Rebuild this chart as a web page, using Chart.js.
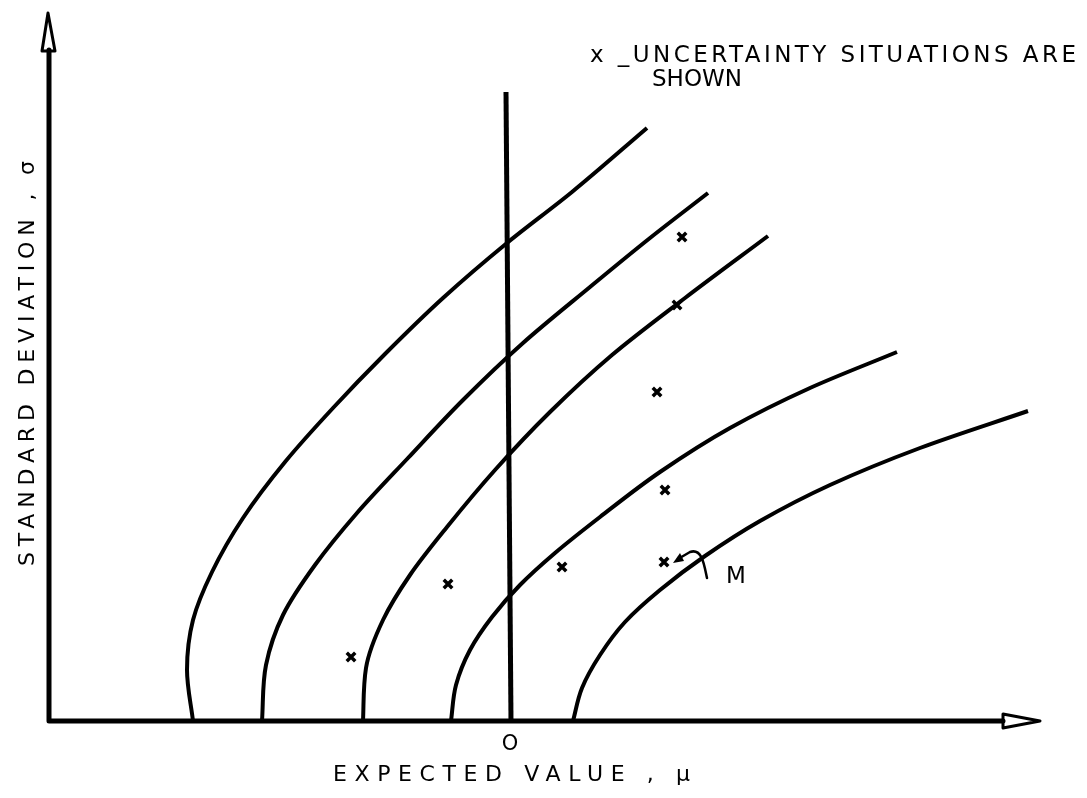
<!DOCTYPE html>
<html>
<head>
<meta charset="utf-8">
<script src="https://cdn.jsdelivr.net/npm/chart.js@4"></script>
<style>
  html, body { margin: 0; padding: 0; background: #fff; }
  #chart { display: block; }
</style>
</head>
<body>
<canvas id="chart" width="1087" height="798"></canvas>
<script>
// indifference curves, [expected value, standard deviation] (0 = origin O)
const curve1 = [[-3.17,0],[-3.23,0.51],[-3.17,1.01],[-2.98,1.49],[-2.67,2.03],[-2.25,2.59],[-1.77,3.13],[-1.25,3.67],[-0.67,4.23],[-0.03,4.78],[0.62,5.29],[1.37,5.93]];
const curve2 = [[-2.48,0],[-2.44,0.56],[-2.27,1.06],[-1.95,1.56],[-1.53,2.08],[-1.02,2.63],[-0.47,3.21],[0.13,3.78],[0.80,4.34],[1.40,4.83],[1.98,5.28]];
const curve3 = [[-1.47,0],[-1.44,0.53],[-1.27,1.01],[-1.00,1.46],[-0.63,1.94],[-0.15,2.51],[0.40,3.09],[1.02,3.66],[1.75,4.23],[2.58,4.85]];
const curve4 = [[-0.59,0],[-0.54,0.36],[-0.40,0.71],[-0.18,1.04],[0.10,1.36],[0.45,1.68],[0.90,2.04],[1.50,2.49],[2.20,2.93],[3.00,3.33],[3.87,3.69]];
const curve5 = [[0.63,0],[0.72,0.33],[0.90,0.66],[1.15,0.99],[1.50,1.31],[1.95,1.65],[2.50,2.00],[3.20,2.36],[4.10,2.73],[5.18,3.10]];
const zeroLine = [[0.01,0],[-0.04,6.29]];
// uncertainty situations (x marks)
const situations = [[-1.59,0.64],[-0.62,1.37],[0.52,1.54],[1.54,1.59],[1.55,2.31],[1.47,3.29],[1.67,4.16],[1.72,4.84]];
const pointM = [1.54, 1.59];

const xLabel = 'EXPECTED VALUE , \u03bc';
const yLabel = 'STANDARD DEVIATION , \u03c3';
const noteLine1 = 'x _UNCERTAINTY SITUATIONS ARE';
const noteLine2 = 'SHOWN';
const originLabel = 'O';
const markLabel = 'M';

const toPts = arr => arr.map(p => ({ x: p[0], y: p[1] }));

// curves rise steadily in sigma, so interpolate monotone along the y axis
function curveSet(arr) {
  return {
    data: toPts(arr),
    indexAxis: 'y',
    showLine: true,
    pointRadius: 0,
    borderColor: '#000',
    borderWidth: 4,
    cubicInterpolationMode: 'monotone',
    clip: false
  };
}

// spread text to a given width
function spacedText(ctx, text, x, y, width) {
  ctx.letterSpacing = '0px';
  const w = ctx.measureText(text).width;
  const sp = (width - w) / (text.length - 1);
  ctx.letterSpacing = sp + 'px';
  ctx.fillText(text, x, y);
  ctx.letterSpacing = '0px';
}

const sketchPlugin = {
  id: 'sketch',
  afterDatasetsDraw(chart) {
    const ctx = chart.ctx;
    const xs = chart.scales.x, ys = chart.scales.y;
    const ax = xs.getPixelForValue(xs.min);
    const ay = ys.getPixelForValue(0);
    ctx.save();
    ctx.strokeStyle = '#000';
    ctx.fillStyle = '#000';
    ctx.lineCap = 'round';
    ctx.lineJoin = 'round';

    // axes
    ctx.lineWidth = 5;
    ctx.beginPath();
    ctx.moveTo(ax, ys.getPixelForValue(6.71));
    ctx.lineTo(ax, ay);
    ctx.lineTo(xs.getPixelForValue(4.93), ay);
    ctx.stroke();

    // open arrow heads
    ctx.lineWidth = 3;
    ctx.beginPath();
    ctx.moveTo(ax - 7, ys.getPixelForValue(6.70));
    ctx.lineTo(ax - 1, ys.getPixelForValue(7.08));
    ctx.lineTo(ax + 6, ys.getPixelForValue(6.70));
    ctx.closePath();
    ctx.stroke();
    ctx.beginPath();
    ctx.moveTo(xs.getPixelForValue(4.93), ay - 7);
    ctx.lineTo(xs.getPixelForValue(5.30), ay);
    ctx.lineTo(xs.getPixelForValue(4.93), ay + 7);
    ctx.closePath();
    ctx.stroke();

    // curved arrow pointing to M
    const mx = xs.getPixelForValue(pointM[0]);
    const my = ys.getPixelForValue(pointM[1]);
    ctx.lineWidth = 2.5;
    ctx.beginPath();
    ctx.moveTo(mx + 43, my + 16);
    ctx.bezierCurveTo(mx + 40, my + 2, mx + 38, my - 14, mx + 26, my - 10);
    ctx.lineTo(mx + 14, my - 3);
    ctx.stroke();
    ctx.beginPath();
    ctx.moveTo(mx + 9, my + 1);
    ctx.lineTo(mx + 16, my - 9);
    ctx.lineTo(mx + 20, my - 1);
    ctx.closePath();
    ctx.fill();

    // texts
    ctx.textBaseline = 'middle';
    ctx.textAlign = 'left';
    ctx.font = '23px "DejaVu Sans"';
    ctx.fillText(markLabel, mx + 62, my + 15);
    ctx.font = '21px "DejaVu Sans"';
    ctx.textAlign = 'center';
    ctx.fillText(originLabel, xs.getPixelForValue(0), ay + 24);

    ctx.textAlign = 'left';
    ctx.font = '22px "DejaVu Sans"';
    spacedText(ctx, xLabel, 333, 775, 357);
    ctx.font = '23px "DejaVu Sans"';
    spacedText(ctx, noteLine1, 590, 56, 486);
    ctx.fillText(noteLine2, 652, 80);

    ctx.save();
    ctx.translate(28, 566);
    ctx.rotate(-Math.PI / 2);
    ctx.font = '22px "DejaVu Sans"';
    spacedText(ctx, yLabel, 0, 0, 405);
    ctx.restore();

    ctx.restore();
  }
};

new Chart(document.getElementById('chart'), {
  type: 'scatter',
  data: {
    datasets: [
      curveSet(curve1),
      curveSet(curve2),
      curveSet(curve3),
      curveSet(curve4),
      curveSet(curve5),
      Object.assign(curveSet(zeroLine), { borderWidth: 5, cubicInterpolationMode: 'default', tension: 0 }),
      {
        data: toPts(situations),
        showLine: false,
        pointStyle: 'crossRot',
        pointRadius: 6,
        borderColor: '#000',
        borderWidth: 3.5,
        clip: false
      }
    ]
  },
  options: {
    responsive: false,
    animation: false,
    layout: { padding: { left: 49, right: 42, top: 11, bottom: 77 } },
    plugins: { legend: { display: false }, tooltip: { enabled: false } },
    scales: {
      x: { type: 'linear', min: -4.61, max: 5.35, display: false },
      y: { type: 'linear', min: 0, max: 7.10, display: false }
    }
  },
  plugins: [sketchPlugin]
});
</script>
</body>
</html>
